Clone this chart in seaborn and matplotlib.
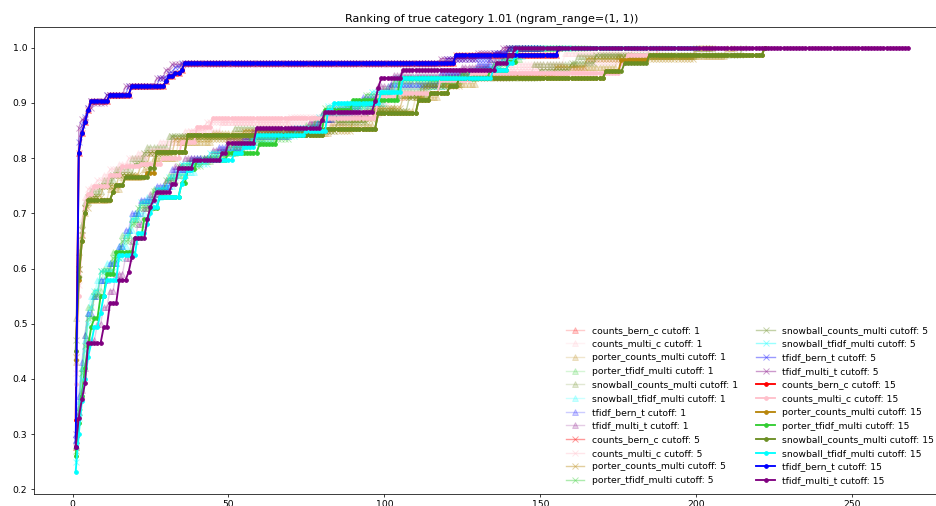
import numpy as np
import matplotlib
matplotlib.use("Agg")
import matplotlib.pyplot as plt
import seaborn as sns

# step curves: (rank where value starts, value)
# cutoff 1
c1_counts_bern_c = [(1, 0.276), (2, 0.81), (3, 0.845), (4, 0.865), (5, 0.887), (6, 0.903), (12, 0.915), (19, 0.93), (30, 0.94), (31, 0.948), (33, 0.954), (35, 0.96), (36, 0.972), (123, 0.987), (156, 1.0)]
c1_counts_multi_c = [(1, 0.45), (2, 0.60), (3, 0.69), (4, 0.73), (6, 0.75), (10, 0.77), (15, 0.79), (21, 0.81), (28, 0.83), (36, 0.85), (48, 0.865), (88, 0.88), (99, 0.91), (108, 0.935), (122, 0.955), (140, 0.97), (158, 0.99), (180, 1.0)]
c1_porter_counts_multi = [(1, 0.43), (2, 0.59), (3, 0.66), (4, 0.70), (5, 0.725), (12, 0.745), (16, 0.765), (23, 0.78), (26, 0.80), (34, 0.83), (45, 0.845), (83, 0.86), (97, 0.885), (110, 0.91), (118, 0.935), (130, 0.95), (160, 0.965), (175, 0.985), (210, 1.0)]
c1_porter_tfidf_multi = [(1, 0.28), (2, 0.35), (3, 0.42), (4, 0.48), (5, 0.53), (7, 0.56), (10, 0.60), (13, 0.63), (16, 0.66), (19, 0.69), (22, 0.72), (26, 0.745), (31, 0.77), (37, 0.795), (45, 0.81), (53, 0.83), (62, 0.845), (75, 0.86), (80, 0.88), (88, 0.90), (100, 0.925), (115, 0.945), (130, 0.96), (138, 0.98), (144, 1.0)]
c1_snowball_counts_multi = [(1, 0.51), (2, 0.63), (3, 0.68), (4, 0.72), (6, 0.74), (10, 0.76), (14, 0.78), (19, 0.80), (24, 0.82), (31, 0.84), (52, 0.855), (80, 0.87), (94, 0.89), (104, 0.915), (114, 0.935), (125, 0.95), (148, 0.97), (162, 0.985), (200, 1.0)]
c1_snowball_tfidf_multi = [(1, 0.29), (2, 0.36), (3, 0.42), (4, 0.47), (5, 0.52), (6, 0.55), (8, 0.58), (11, 0.61), (15, 0.64), (18, 0.67), (20, 0.70), (24, 0.73), (29, 0.75), (33, 0.775), (40, 0.80), (48, 0.815), (55, 0.83), (65, 0.845), (77, 0.86), (80, 0.88), (90, 0.90), (101, 0.93), (120, 0.95), (132, 0.965), (138, 0.985), (145, 1.0)]
c1_tfidf_bern_t = [(1, 0.30), (2, 0.37), (3, 0.43), (4, 0.48), (5, 0.52), (7, 0.55), (9, 0.58), (12, 0.61), (15, 0.64), (17, 0.67), (19, 0.70), (22, 0.725), (27, 0.75), (32, 0.78), (38, 0.80), (47, 0.82), (55, 0.84), (70, 0.855), (79, 0.87), (84, 0.89), (93, 0.91), (102, 0.935), (118, 0.955), (130, 0.97), (136, 0.99), (140, 1.0)]
c1_tfidf_multi_t = [(1, 0.29), (2, 0.34), (3, 0.38), (4, 0.42), (5, 0.47), (8, 0.50), (10, 0.53), (12, 0.56), (14, 0.59), (17, 0.62), (19, 0.65), (21, 0.68), (23, 0.71), (25, 0.735), (30, 0.76), (33, 0.785), (36, 0.80), (45, 0.815), (50, 0.835), (58, 0.85), (76, 0.865), (80, 0.88), (95, 0.90), (98, 0.93), (103, 0.95), (125, 0.965), (134, 0.98), (139, 1.0)]

# cutoff 5
c5_counts_bern_c = [(1, 0.276), (2, 0.81), (3, 0.845), (4, 0.865), (5, 0.887), (6, 0.903), (12, 0.915), (19, 0.93), (30, 0.94), (31, 0.948), (33, 0.954), (35, 0.96), (36, 0.972), (123, 0.987), (156, 1.0)]
c5_counts_multi_c = [(1, 0.41), (2, 0.57), (3, 0.67), (4, 0.72), (5, 0.745), (8, 0.76), (12, 0.78), (18, 0.80), (25, 0.815), (32, 0.835), (38, 0.85), (43, 0.865), (70, 0.875), (95, 0.90), (102, 0.925), (115, 0.945), (140, 0.96), (165, 0.975), (185, 1.0)]
c5_porter_counts_multi = [(1, 0.44), (2, 0.60), (3, 0.66), (4, 0.71), (6, 0.73), (10, 0.75), (15, 0.77), (22, 0.79), (25, 0.81), (33, 0.835), (55, 0.85), (90, 0.87), (97, 0.89), (106, 0.91), (113, 0.93), (125, 0.95), (155, 0.965), (165, 0.98), (200, 1.0)]
c5_porter_tfidf_multi = [(1, 0.27), (2, 0.34), (3, 0.41), (4, 0.46), (5, 0.51), (7, 0.55), (9, 0.595), (13, 0.62), (16, 0.65), (19, 0.68), (21, 0.71), (26, 0.74), (30, 0.76), (34, 0.785), (42, 0.80), (50, 0.82), (57, 0.835), (70, 0.85), (78, 0.87), (81, 0.89), (94, 0.915), (103, 0.94), (125, 0.955), (135, 0.97), (140, 1.0)]
c5_snowball_counts_multi = [(1, 0.47), (2, 0.60), (3, 0.67), (4, 0.71), (5, 0.73), (9, 0.75), (13, 0.77), (20, 0.79), (23, 0.81), (32, 0.84), (60, 0.85), (85, 0.865), (95, 0.885), (108, 0.91), (112, 0.93), (120, 0.945), (150, 0.96), (160, 0.972), (168, 0.987), (215, 1.0)]
c5_snowball_tfidf_multi = [(1, 0.25), (2, 0.33), (3, 0.40), (4, 0.45), (5, 0.50), (6, 0.53), (7, 0.56), (9, 0.595), (14, 0.62), (17, 0.66), (19, 0.69), (22, 0.72), (27, 0.745), (31, 0.765), (35, 0.79), (44, 0.81), (52, 0.825), (58, 0.84), (72, 0.855), (79, 0.875), (82, 0.895), (96, 0.92), (104, 0.945), (128, 0.96), (137, 0.975), (141, 1.0)]
c5_tfidf_bern_t = [(1, 0.29), (2, 0.83), (3, 0.86), (4, 0.875), (5, 0.89), (6, 0.903), (11, 0.915), (18, 0.93), (28, 0.945), (31, 0.955), (33, 0.965), (35, 0.972), (120, 0.98), (135, 0.99), (140, 1.0)]
c5_tfidf_multi_t = [(1, 0.30), (2, 0.855), (3, 0.87), (5, 0.89), (7, 0.90), (11, 0.915), (17, 0.93), (27, 0.945), (30, 0.96), (32, 0.97), (118, 0.98), (130, 0.99), (138, 1.0)]

# cutoff 15
c15_counts_bern_c = [(1, 0.325), (2, 0.81), (3, 0.845), (4, 0.865), (5, 0.887), (6, 0.903), (12, 0.915), (19, 0.93), (30, 0.94), (31, 0.948), (33, 0.954), (35, 0.96), (36, 0.972), (123, 0.987), (156, 1.0)]
c15_counts_multi_c = [(1, 0.39), (2, 0.55), (3, 0.66), (4, 0.71), (5, 0.735), (7, 0.75), (12, 0.77), (16, 0.785), (22, 0.79), (29, 0.80), (35, 0.83), (40, 0.857), (45, 0.872), (98, 0.91), (104, 0.918), (118, 0.942), (128, 0.955), (176, 0.972), (178, 0.987), (188, 1.0)]
c15_porter_counts_multi = [(1, 0.434), (2, 0.58), (3, 0.65), (4, 0.70), (5, 0.724), (13, 0.739), (14, 0.751), (17, 0.766), (24, 0.773), (27, 0.812), (37, 0.842), (81, 0.853), (98, 0.881), (111, 0.906), (115, 0.918), (121, 0.93), (124, 0.945), (171, 0.957), (176, 0.978), (185, 0.987), (222, 1.0)]
c15_porter_tfidf_multi = [(1, 0.26), (2, 0.32), (3, 0.37), (4, 0.42), (5, 0.46), (6, 0.494), (7, 0.51), (9, 0.55), (11, 0.59), (14, 0.63), (20, 0.655), (23, 0.69), (25, 0.71), (28, 0.73), (35, 0.755), (37, 0.78), (40, 0.797), (50, 0.81), (60, 0.826), (66, 0.842), (75, 0.85), (81, 0.887), (90, 0.905), (105, 0.945), (134, 0.96), (140, 0.975), (143, 1.0)]
c15_snowball_counts_multi = [(1, 0.45), (2, 0.585), (3, 0.65), (4, 0.70), (5, 0.724), (13, 0.739), (14, 0.751), (17, 0.766), (25, 0.782), (27, 0.812), (37, 0.842), (81, 0.853), (98, 0.881), (111, 0.906), (115, 0.918), (121, 0.93), (124, 0.945), (171, 0.957), (177, 0.972), (185, 0.987), (222, 1.0)]
c15_snowball_tfidf_multi = [(1, 0.231), (2, 0.30), (3, 0.36), (4, 0.40), (5, 0.44), (6, 0.465), (7, 0.494), (9, 0.52), (10, 0.55), (11, 0.579), (15, 0.624), (21, 0.664), (24, 0.68), (25, 0.70), (26, 0.712), (28, 0.73), (35, 0.754), (36, 0.766), (37, 0.778), (39, 0.797), (52, 0.809), (55, 0.82), (59, 0.842), (75, 0.85), (82, 0.887), (84, 0.90), (99, 0.92), (106, 0.945), (135, 0.96), (140, 0.972), (142, 0.985), (143, 1.0)]
c15_tfidf_bern_t = [(1, 0.276), (2, 0.81), (3, 0.845), (4, 0.865), (5, 0.887), (6, 0.903), (12, 0.915), (19, 0.93), (30, 0.94), (31, 0.948), (33, 0.954), (35, 0.96), (36, 0.972), (123, 0.987), (156, 1.0)]
c15_tfidf_multi_t = [(1, 0.276), (2, 0.33), (3, 0.363), (4, 0.392), (5, 0.465), (10, 0.494), (12, 0.537), (15, 0.579), (18, 0.594), (19, 0.621), (20, 0.655), (24, 0.69), (25, 0.712), (26, 0.725), (27, 0.739), (32, 0.754), (34, 0.782), (39, 0.797), (48, 0.809), (50, 0.827), (59, 0.854), (80, 0.869), (81, 0.884), (97, 0.903), (98, 0.927), (99, 0.945), (106, 0.96), (136, 0.972), (140, 0.987), (142, 1.0)]

# last rank of each curve, same order as the lists above
last_c1 = [156, 185, 212, 155, 205, 150, 150, 150]
last_c5 = [156, 190, 205, 165, 215, 160, 150, 145]
last_c15 = [156, 195, 222, 180, 222, 200, 156, 268]

models = ["counts_bern_c", "counts_multi_c", "porter_counts_multi", "porter_tfidf_multi",
          "snowball_counts_multi", "snowball_tfidf_multi", "tfidf_bern_t", "tfidf_multi_t"]
colors = ["red", "pink", "darkgoldenrod", "limegreen", "olivedrab", "cyan", "blue", "purple"]
cutoffs = [1, 5, 15]
cut_markers = ["^", "x", "."]
cut_msize = [6, 6, 8]
cut_lw = [1.5, 1.5, 2]
cut_alpha = [0.2, 0.4, 1.0]

curves = [
    [c1_counts_bern_c, c1_counts_multi_c, c1_porter_counts_multi, c1_porter_tfidf_multi,
     c1_snowball_counts_multi, c1_snowball_tfidf_multi, c1_tfidf_bern_t, c1_tfidf_multi_t],
    [c5_counts_bern_c, c5_counts_multi_c, c5_porter_counts_multi, c5_porter_tfidf_multi,
     c5_snowball_counts_multi, c5_snowball_tfidf_multi, c5_tfidf_bern_t, c5_tfidf_multi_t],
    [c15_counts_bern_c, c15_counts_multi_c, c15_porter_counts_multi, c15_porter_tfidf_multi,
     c15_snowball_counts_multi, c15_snowball_tfidf_multi, c15_tfidf_bern_t, c15_tfidf_multi_t],
]
lasts = [last_c1, last_c5, last_c15]


def expand(steps, last):
    # one point per rank, holding each value until the next step
    starts = [s[0] for s in steps]
    vals = [s[1] for s in steps]
    runs = np.diff(starts + [last + 1])
    return np.arange(1, last + 1), np.repeat(vals, runs)


DPI = 67
fig = plt.figure(figsize=(936 / DPI, 506 / DPI), dpi=DPI)
ax = fig.add_axes([34 / 936, 12.5 / 506, 916 / 936, 467 / 506])

for ci, cut in enumerate(cutoffs):
    for mi, name in enumerate(models):
        x, y = expand(curves[ci][mi], lasts[ci][mi])
        sns.lineplot(x=x, y=y, ax=ax, color=colors[mi], marker=cut_markers[ci],
                     markersize=cut_msize[ci], linewidth=cut_lw[ci],
                     markeredgecolor=colors[mi], markeredgewidth=1, alpha=cut_alpha[ci],
                     estimator=None, errorbar=None, label=f"{name} cutoff: {cut}")

ax.set_title("Ranking of true category 1.01 (ngram_range=(1, 1))")
ax.set_xlabel("")
ax.set_ylabel("")
ax.legend(loc="lower right", bbox_to_anchor=(0.992, 0.0), ncol=2, frameon=False)

fig.savefig("out.png", dpi=DPI)
